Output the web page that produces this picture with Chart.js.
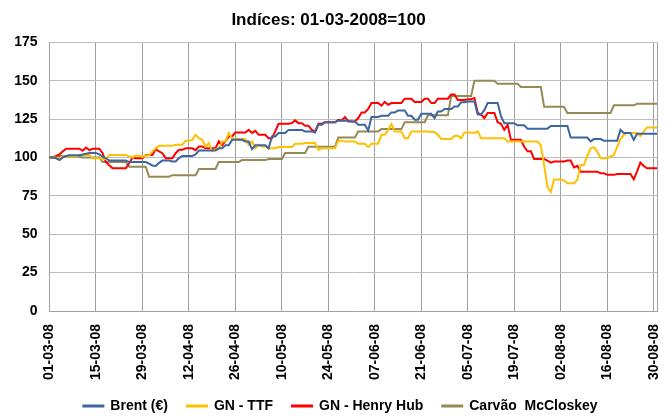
<!DOCTYPE html>
<html>
<head>
<meta charset="utf-8">
<script src="https://cdn.jsdelivr.net/npm/chart.js@4.4.0/dist/chart.umd.min.js"></script>
<style>
  html, body { margin: 0; padding: 0; background: #fff; }
</style>
</head>
<body>
<canvas id="myChart" width="667" height="417"></canvas>
<script>
// tick labels shown on the date axis (every two weeks)
const tickLabels = ['01-03-08', '15-03-08', '29-03-08', '12-04-08', '26-04-08', '10-05-08', '24-05-08',
  '07-06-08', '21-06-08', '05-07-08', '19-07-08', '02-08-08', '16-08-08', '30-08-08'];

// daily index values, 01-03-2008 .. 31-08-2008 (01-03-2008 = 100)
const brent = [
  100, 100, 99.5, 98.3, 100, 101, 101.5, 101.5, 101.5, 101.5, 102, 102.5, 103, 103,
  103, 102, 100.5, 99.5, 98, 98, 98, 98, 98, 98, 97, 97, 97, 97,
  97, 97, 96, 94.8, 94.5, 96.5, 98, 98, 98, 97.4, 97.4, 99.6, 101, 101,
  101, 101, 102, 104.5, 104.5, 104.5, 104.5, 104.5, 104.5, 106, 106, 108, 108, 111.5,
  111.5, 111.5, 111.5, 110.5, 110.5, 105.5, 108, 108, 108, 108, 106, 113.7, 113.7, 116,
  116, 116, 118, 118, 118, 118, 118, 117, 117, 117, 116.3, 121.4, 121.4, 123,
  123, 123, 123, 124, 124, 124, 124, 123.5, 123.5, 121.4, 121.4, 121.4, 117.6, 126.4,
  126.4, 126.4, 127.2, 127.2, 127.2, 129.4, 129.4, 130.7, 130.7, 130.7, 127.2, 127.2, 124.6, 124.6,
  128.5, 128.5, 128.5, 128.5, 125.7, 130, 130, 131.6, 131.6, 131.6, 133.3, 133.3, 136, 136,
  136.5, 136.5, 136.5, 128, 128, 131, 135.5, 135.5, 135.5, 135.5, 127, 122.4, 122.4, 122.4,
  122.4, 121, 121, 121, 118.8, 118.8, 118.8, 118.8, 118.8, 118.8, 118.8, 120.5, 120.5, 120.5,
  120.5, 120.5, 120.5, 113, 113, 113, 113, 113, 113, 110.5, 112, 112, 112, 111,
  111, 111, 111, 111, 118, 116, 116, 116, 111.5, 115.5, 115.5, 115.5, 115.5, 115.5,
  115.5, 115.5
];
const gnTtf = [
  100, 100, 100, 99, 100.7, 100.7, 100.7, 100.7, 100.7, 101.7, 101.7, 101.7, 101.7, 99.6,
  99.6, 99.6, 99, 99, 101.7, 101.7, 101.7, 101.7, 101.7, 101.7, 100.7, 100, 101.3, 101.3,
  100.4, 101.3, 101.3, 104, 106, 107.6, 107.6, 107.6, 107.6, 107.6, 108.3, 108.3, 108.3, 111,
  111, 111.5, 114.8, 112.6, 111.5, 107.2, 109.4, 104, 105.4, 105.4, 110.5, 110.5, 116, 112.6,
  112, 112, 112, 112, 108.3, 110.5, 106, 108.3, 107.2, 107.2, 106, 106, 106, 106.8,
  106.8, 106.8, 106.8, 106.8, 109, 109, 109, 109.4, 109.4, 109.4, 109.4, 105, 106, 106,
  106, 106, 106, 111, 111, 110.5, 110.5, 110.5, 110.5, 109, 109, 109, 106.8, 109,
  109, 109, 114.8, 114.8, 118, 121.8, 117, 117, 117, 112.6, 112.6, 117, 117, 117,
  117, 117, 117, 116.6, 116.6, 114.8, 112, 112, 112, 112, 114.2, 114.2, 112.6, 116.3,
  116.3, 116.3, 116, 117, 112.6, 112.6, 112.6, 112.6, 112.6, 112.6, 112.6, 112.6, 110.5, 110.5,
  110.5, 110.5, 110.5, 110.4, 110.4, 110.4, 110.4, 110.4, 108, 95, 81, 77.5, 85.6, 85.6,
  85.6, 85, 83.2, 83.2, 83.2, 85.4, 95.2, 95.2, 101, 106, 106.8, 103.9, 99.6, 99.6,
  99.6, 100.7, 101.7, 107, 112, 114.8, 116, 116, 116, 116, 114, 117, 119.6, 119.6,
  119.6, 119.6
];
const gnHenryHub = [
  100, 100, 101, 102, 104, 105.7, 105.7, 105.7, 105.7, 105.7, 104.4, 106.5, 104.8, 105.7,
  105.7, 105.7, 102.8, 97, 95, 93, 93, 93, 93, 93, 96.3, 100, 99.5, 99.5,
  99.5, 101.7, 101.7, 101.7, 105.5, 104, 102.8, 99.6, 99.6, 99.6, 102.8, 105, 105, 106,
  106, 106, 104.8, 107.2, 107.2, 106, 106, 106, 106, 110.5, 108, 110.5, 113.7, 113.7,
  116.3, 116.3, 116.3, 116.3, 118, 116, 117.4, 114.8, 114.8, 114.8, 112.6, 112.6, 117, 122,
  122, 122, 122, 122.4, 124.2, 122.4, 122.4, 120.7, 120.7, 118, 117, 122, 122, 123,
  123, 123, 123, 124.6, 124.2, 126.4, 123.5, 123.5, 123.5, 125.7, 129.4, 129.4, 131.6, 135.5,
  135.5, 135.5, 133.8, 136.2, 134.4, 135.5, 135.5, 135.5, 135.5, 138.3, 138.3, 138.3, 136.2, 136.2,
  136.2, 138.3, 138.3, 135.5, 135.5, 138.3, 138.3, 138.3, 138.3, 141, 141, 137.5, 137.5, 137.5,
  138, 138, 138.8, 129, 128, 125.7, 129, 129, 129, 123, 122, 118, 121.3, 111.5,
  111.5, 111.5, 111.5, 107, 104, 104, 99, 99, 99, 99, 98, 96.7, 97.4, 97.4,
  97.4, 97.4, 98, 98, 93.5, 94.6, 90.8, 90.8, 90.8, 90.8, 90.8, 90.8, 89.8, 89.8,
  88.7, 88.7, 88.7, 89.3, 89.3, 89.3, 89.3, 89.3, 85.8, 91, 96.7, 94.5, 93, 93,
  93, 93
];
const carvao = [
  100, 100, 100.5, 101, 101, 101, 100.5, 100.5, 100.5, 100.5, 100, 100, 100, 100,
  100, 100, 97, 97, 97, 97, 97, 97, 97, 97, 94, 94, 94, 94,
  94, 94, 87.5, 87.5, 87.5, 87.5, 87.5, 87.5, 87.5, 88.5, 88.5, 88.5, 88.5, 88.5,
  88.5, 88.5, 88.5, 92.5, 92.5, 92.5, 92.5, 92.5, 92.5, 97, 97, 97, 97, 97,
  97, 97, 98.3, 98.3, 98.3, 98.3, 98.3, 98.3, 98.3, 98.3, 99, 99, 99, 99,
  99, 103, 103, 103, 103, 103, 103, 103, 107, 107, 107, 107, 107, 107,
  107, 107, 107, 113, 113, 113, 113, 113, 113, 117, 117, 117, 117, 117,
  117, 117, 118.5, 118.5, 118.5, 118.5, 118.5, 118.5, 118.5, 123, 123, 123, 123, 123,
  123, 123, 127.5, 127.5, 127.5, 127.5, 127.5, 127.5, 127.5, 140, 140, 140, 140, 140,
  140, 140, 150, 150, 150, 150, 150, 150, 150, 148, 148, 148, 148, 148,
  148, 148, 146, 146, 146, 146, 146, 146, 146, 133, 133, 133, 133, 133,
  133, 133, 129, 129, 129, 129, 129, 129, 129, 129, 129, 129, 129, 129,
  129, 129, 134, 134, 134, 134, 134, 134, 134, 135, 135, 135, 135, 135,
  135, 135
];

// one category per day
const dates = [];
for (let i = 0; i < brent.length; i++) {
  const d = new Date(2008, 2, 1 + i);
  const dd = String(d.getDate()).padStart(2, '0');
  const mm = String(d.getMonth() + 1).padStart(2, '0');
  dates.push(dd + '-' + mm + '-' + String(d.getFullYear()).slice(2));
}

const font = 'Liberation Sans, Arial, sans-serif';

const makeSet = (label, data, color) => ({
  label: label,
  data: data,
  borderColor: color,
  backgroundColor: color,
  borderWidth: 2,
  pointRadius: 0,
  tension: 0
});

// legend sits a little right of centre in the original
const legendShift = {
  id: 'legendShift',
  afterLayout(chart) {
    chart.legend.left += 24;
  }
};

new Chart(document.getElementById('myChart'), {
  type: 'line',
  data: {
    labels: dates,
    datasets: [
      makeSet('Brent (€)', brent, '#3d65a0'),
      makeSet('GN - TTF', gnTtf, '#ffc000'),
      makeSet('GN - Henry Hub', gnHenryHub, '#ff0000'),
      makeSet('Carvão  McCloskey', carvao, '#948a54')
    ]
  },
  plugins: [legendShift],
  options: {
    responsive: false,
    animation: false,
    layout: { padding: { left: 0, right: 10, top: 0, bottom: -6 } },
    plugins: {
      title: {
        display: true,
        text: 'Indíces: 01-03-2008=100',
        color: '#000',
        font: { family: font, size: 17, weight: 'bold' },
        padding: { top: 10, bottom: 12 }
      },
      legend: {
        position: 'bottom',
        labels: {
          color: '#000',
          font: { family: font, size: 14, weight: 'bold' },
          boxWidth: 20,
          boxHeight: 1,
          padding: 19
        }
      },
      tooltip: { enabled: false }
    },
    scales: {
      x: {
        afterFit(scale) {
          scale.height = 69;
          scale.paddingLeft = 0;
          scale.paddingRight = 0;
        },
        grid: { color: '#a0a0a0', drawTicks: false },
        border: { color: '#a0a0a0' },
        ticks: {
          autoSkip: false,
          minRotation: 90,
          maxRotation: 90,
          padding: 13,
          color: '#000',
          font: { family: font, size: 14, weight: 'bold' },
          callback(value, index) {
            const lbl = dates[index];
            if (tickLabels.includes(lbl)) return lbl;
            if (index === dates.length - 1) return '';
            return null;
          }
        }
      },
      y: {
        min: 0,
        max: 175,
        afterFit(scale) { scale.width = 49.5; },
        grid: { color: '#bcbcbc', drawTicks: false },
        border: { color: '#a0a0a0' },
        ticks: {
          stepSize: 25,
          padding: 12,
          color: '#000',
          font: { family: font, size: 14, weight: 'bold' }
        }
      }
    }
  }
});
</script>
</body>
</html>
